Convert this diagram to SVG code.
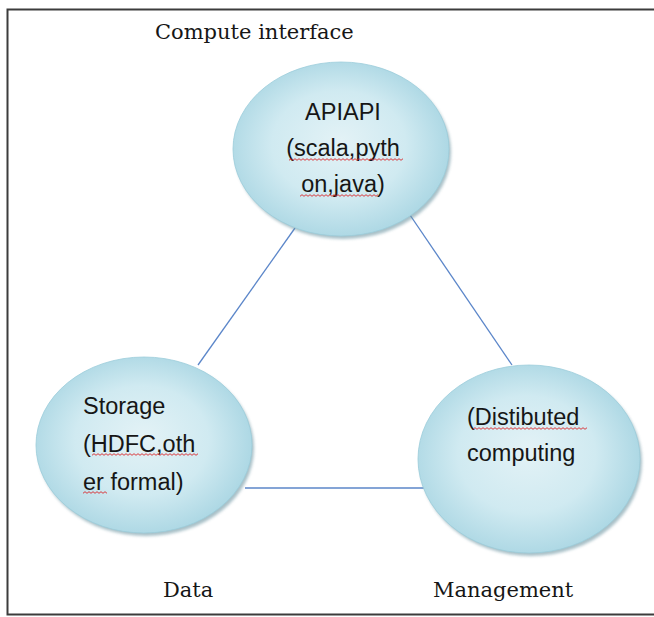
<svg xmlns="http://www.w3.org/2000/svg" width="654" height="617" viewBox="0 0 654 617">
  <style>
    .node-fill { fill: url(#bubble); stroke: #9ccddb; stroke-width: 0.8; }
    .node-shadow { fill: #6e96a3; opacity: 0.6; filter: url(#soft); }
    .node-text { font-family: "Liberation Sans", Arial, sans-serif; font-size: 23.5px; fill: #161616; }
    .caption { font-family: "DejaVu Serif", "Liberation Serif", serif; font-size: 21px; fill: #161616; }
    .link { stroke: #5b86c9; stroke-width: 1.3; fill: none; }
    .frame { stroke: #3c3c3c; stroke-width: 2; fill: none; }
  </style>
  <defs>
    <radialGradient id="bubble" cx="0.48" cy="0.5" r="0.62" fx="0.5" fy="0.45">
      <stop offset="0" stop-color="#e3f2f6"/>
      <stop offset="0.5" stop-color="#d0eaf1"/>
      <stop offset="1" stop-color="#9ccfde"/>
    </radialGradient>
    <filter id="soft" x="-10%" y="-10%" width="120%" height="120%">
      <feGaussianBlur stdDeviation="1.5"/>
    </filter>
    <pattern id="squiggle" width="4" height="3" patternUnits="userSpaceOnUse">
      <path d="M0,2.3 L2,0.7 L4,2.3" fill="none" stroke="#d9262a" stroke-width="0.9"/>
    </pattern>
  </defs>

  <rect width="654" height="617" fill="#ffffff"/>
  <path class="frame" d="M655,9.5 H7.5 V614.5 H655"/>

  <!-- connectors -->
  <g id="connectors">
    <line class="link" x1="295" y1="228" x2="198" y2="365"/>
    <line class="link" x1="410" y1="215" x2="512" y2="365"/>
    <line class="link" x1="245" y1="488" x2="433" y2="488"/>
  </g>

  <!-- compute interface node -->
  <g id="api">
    <ellipse class="node-shadow" cx="343" cy="152" rx="108" ry="87"/>
    <ellipse class="node-fill" cx="341" cy="149" rx="108" ry="87"/>
    <text class="node-text" x="343" y="120" text-anchor="middle">APIAPI</text>
    <text class="node-text" x="343" y="156" text-anchor="middle">(scala,pyth</text>
    <text class="node-text" x="343" y="192" text-anchor="middle">on,java)</text>
    <g transform="translate(289,158)"><rect width="114" height="3" fill="url(#squiggle)"/></g>
    <g transform="translate(300,194)"><rect width="78" height="3" fill="url(#squiggle)"/></g>
  </g>

  <!-- storage node -->
  <g id="storage">
    <ellipse class="node-shadow" cx="146" cy="448" rx="108" ry="88"/>
    <ellipse class="node-fill" cx="144" cy="445" rx="108" ry="88"/>
    <text class="node-text" x="83" y="414">Storage</text>
    <text class="node-text" x="83" y="452">(HDFC,oth</text>
    <text class="node-text" x="83" y="490">er formal)</text>
    <g transform="translate(92,453)"><rect width="106" height="3" fill="url(#squiggle)"/></g>
    <g transform="translate(83,491)"><rect width="24" height="3" fill="url(#squiggle)"/></g>
  </g>

  <!-- distributed computing node -->
  <g id="compute">
    <ellipse class="node-shadow" cx="531" cy="462" rx="111" ry="94"/>
    <ellipse class="node-fill" cx="529" cy="459" rx="111" ry="94"/>
    <text class="node-text" x="467" y="425">(Distibuted</text>
    <text class="node-text" x="467" y="461">computing</text>
    <g transform="translate(473,427)"><rect width="114" height="3" fill="url(#squiggle)"/></g>
  </g>

  <!-- captions -->
  <g id="captions">
    <text class="caption" x="155" y="39">Compute interface</text>
    <text class="caption" x="163" y="597">Data</text>
    <text class="caption" x="433" y="597">Management</text>
  </g>
</svg>
